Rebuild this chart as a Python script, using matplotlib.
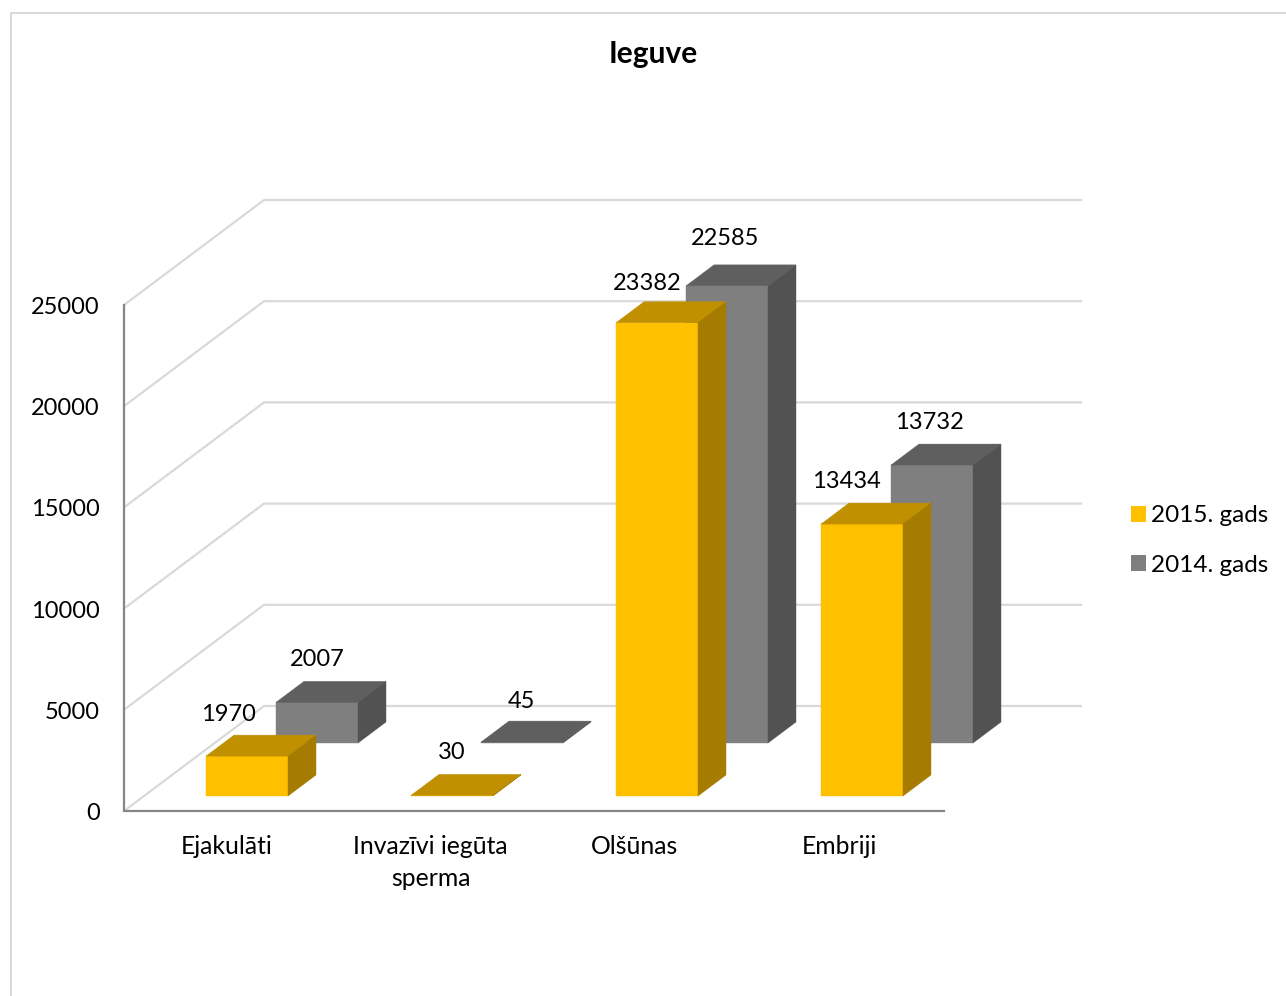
import matplotlib
matplotlib.use("Agg")
import matplotlib.pyplot as plt
from matplotlib.patches import Patch, Polygon

plt.rcParams['font.family'] = ['Lato', 'DejaVu Sans']

categories = ['Ejakulāti', 'Invazīvi iegūta\nsperma', 'Olšūnas', 'Embriji']
values_2015 = [1970, 30, 23382, 13434]
values_2014 = [2007, 45, 22585, 13732]
series_names = ['2015. gads', '2014. gads']
y_ticks = [0, 5000, 10000, 15000, 20000, 25000]

# label nudges from the top left corner of each bar, the picture has them hand placed
nudge_2015 = [(22, -42), (41, -43), (31, -39), (25, -43)]
nudge_2014 = [(41, -43), (40, -41), (39, -47), (38, -43)]

# oblique projection, all in image pixels
X0, Y0 = 124, 811
PX_PER_UNIT = 0.02024
WALL_DX, WALL_DY = 140, -105
FLOOR_W = 820
BAR_W = 82
BAR_DX, BAR_DY = 28, -21
CAT_STEP = 205
FIRST_BAR_DX = 82
FIRST_BAR_DY = -15
SERIES_DX, SERIES_DY = 70, -53

YELLOW = ('#FFC000', '#C09000', '#A57C00')
GREY = ('#7F7F7F', '#5F5F5F', '#525252')
FS = 17


def val_px(v):
    return v * PX_PER_UNIT


def draw_bar(ax, left, base, value, colors, z):
    front, top, side = colors
    h = val_px(value)
    r = left + BAR_W
    t = base - h
    ax.add_patch(Polygon([(left, base), (r, base), (r, t), (left, t)], fc=front, ec=front, lw=0.3, zorder=z))
    ax.add_patch(Polygon([(left, t), (r, t), (r + BAR_DX, t + BAR_DY), (left + BAR_DX, t + BAR_DY)],
                         fc=top, ec=top, lw=0.3, zorder=z))
    ax.add_patch(Polygon([(r, base), (r + BAR_DX, base + BAR_DY), (r + BAR_DX, t + BAR_DY), (r, t)],
                         fc=side, ec=side, lw=0.3, zorder=z))
    return left, t


fig = plt.figure(figsize=(12.86, 9.96), dpi=100)
ax = fig.add_axes([0, 0, 1, 1])
ax.set_xlim(0, 1286)
ax.set_ylim(996, 0)
ax.axis('off')

# chart frame
ax.plot([10.5, 10.5, 1286], [996, 12.5, 12.5], color='#D9D9D9', lw=1.5, zorder=1)

# gridlines on side and back wall
for tick in y_ticks:
    y = Y0 - val_px(tick)
    ax.plot([X0, X0 + WALL_DX, X0 + FLOOR_W + WALL_DX - 3], [y, y + WALL_DY, y + WALL_DY],
            color='#D9D9D9', lw=1.6, zorder=2, solid_joinstyle='miter')
    ax.text(100, y + 2.5, str(tick), ha='right', va='center', fontsize=FS, color='black')

# axis lines
ax.plot([X0, X0, X0 + FLOOR_W], [Y0 - val_px(25000), Y0, Y0], color='#868686', lw=1.6, zorder=3,
        solid_joinstyle='miter')

for i, cat in enumerate(categories):
    left = X0 + FIRST_BAR_DX + i * CAT_STEP
    base = Y0 + FIRST_BAR_DY
    lx, ty = draw_bar(ax, left + SERIES_DX, base + SERIES_DY, values_2014[i], GREY, 4 + i)
    ax.text(lx + nudge_2014[i][0], ty + nudge_2014[i][1], str(values_2014[i]),
            ha='center', va='center', fontsize=FS, color='black', zorder=20)
    lx, ty = draw_bar(ax, left, base, values_2015[i], YELLOW, 4.5 + i)
    ax.text(lx + nudge_2015[i][0], ty + nudge_2015[i][1], str(values_2015[i]),
            ha='center', va='center', fontsize=FS, color='black', zorder=20)
    ax.text(226.5 + i * 204.2, 835, cat, ha='center', va='top', fontsize=17.8, color='black',
            linespacing=1.48)

ax.text(653, 54, 'Ieguve', ha='center', va='center', fontsize=21.5, fontweight='bold', color='black')

handles = [Patch(fc=YELLOW[0], ec='none'), Patch(fc=GREY[0], ec='none')]
ax.legend(handles, series_names, loc='center left', bbox_to_anchor=(1121 / 1286, 1 - 540.5 / 996),
          frameon=False, fontsize=17.5, handlelength=0.62, handleheight=0.62, handletextpad=0.2,
          labelspacing=1.16, borderpad=0.4, borderaxespad=0)

fig.savefig('out.png', dpi=100)
